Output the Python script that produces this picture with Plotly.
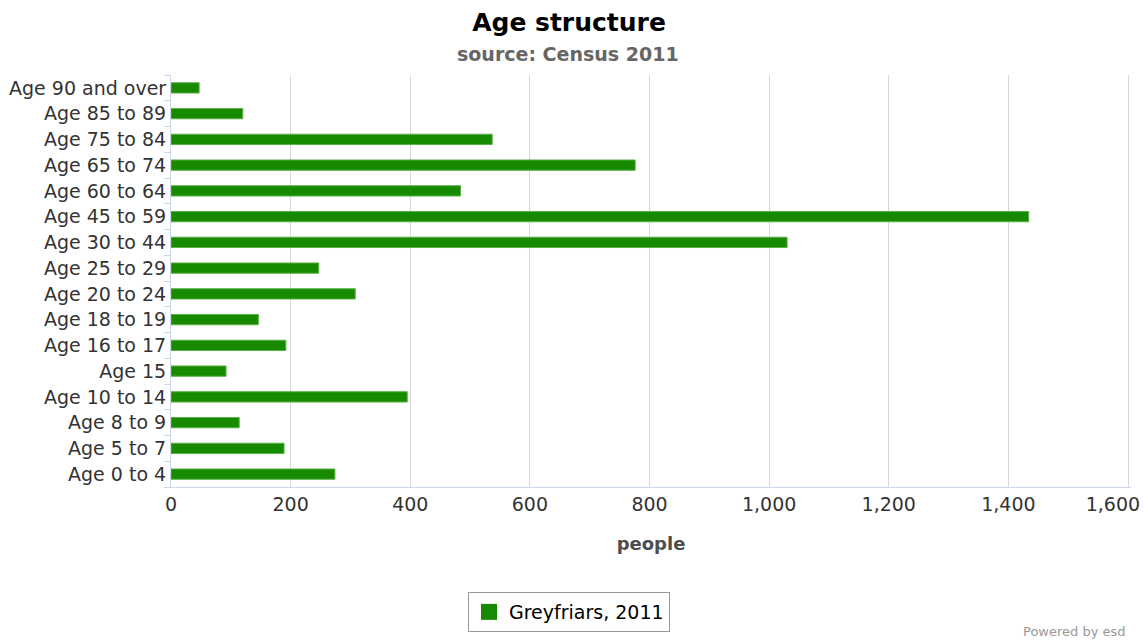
import plotly.graph_objects as go

categories = ["Age 0 to 4", "Age 5 to 7", "Age 8 to 9", "Age 10 to 14", "Age 15",
              "Age 16 to 17", "Age 18 to 19", "Age 20 to 24", "Age 25 to 29",
              "Age 30 to 44", "Age 45 to 59", "Age 60 to 64", "Age 65 to 74",
              "Age 75 to 84", "Age 85 to 89", "Age 90 and over"]
people = [274, 189, 114, 395, 92, 192, 146, 308, 247, 1030, 1434, 484, 776, 537, 120, 47]
x_ticks = [0, 200, 400, 600, 800, 1000, 1200, 1400, 1600]
x_tick_labels = ["0", "200", "400", "600", "800", "1,000", "1,200", "1,400", "1,600"]
series_name = "Greyfriars, 2011"

FONT = "DejaVu Sans, sans-serif"
GREEN = "#178a00"

# last label is pushed left to stay inside the chart (like the reference)
tick_text = list(x_tick_labels)
tick_text[-1] = tick_text[-1] + "\u00a0" * 5

fig = go.Figure()
fig.add_trace(go.Bar(
    y=categories, x=people, orientation="h", name=series_name,
    marker=dict(color=GREEN, line=dict(color="#5bb04a", width=1)),
    width=0.4, showlegend=False,
))
# legend entry (square swatch like the reference)
fig.add_trace(go.Scatter(
    x=[None], y=[None], mode="markers", name=series_name,
    marker=dict(symbol="square", size=16, color=GREEN, line=dict(width=0)),
    showlegend=True,
))

fig.update_layout(
    width=1144, height=640,
    paper_bgcolor="white", plot_bgcolor="white",
    margin=dict(l=171, r=13, t=75, b=153),
    font=dict(family=FONT, color="#333333", size=19),
    title=dict(text="<b>Age structure</b>", x=569/1144, xref="container", xanchor="center",
               y=1 - 22/640, yanchor="middle",
               font=dict(size=25, color="#000000", family=FONT)),
    showlegend=True,
    legend=dict(orientation="h", xref="container", yref="container",
                x=569/1144, xanchor="center", y=1 - 592/640, yanchor="top",
                bordercolor="#999999", borderwidth=1, font=dict(size=19, color="#000000"),
                itemsizing="trace", itemwidth=30),
    bargap=0.6,
)

fig.add_annotation(text="<b>source: Census 2011</b>", xref="paper", yref="paper",
                   x=(568 - 171)/960, y=1 + (75 - 54)/412, xanchor="center", yanchor="middle",
                   showarrow=False, font=dict(size=19, color="#666666", family=FONT))
fig.add_annotation(text="Powered by esd", xref="paper", yref="paper",
                   x=(1128 - 171)/960, y=-(631 - 487)/412, xanchor="right", yanchor="middle",
                   showarrow=False, font=dict(size=13, color="#999999", family=FONT))

fig.update_xaxes(
    range=[0, 1605], tickvals=x_ticks, ticktext=tick_text,
    showgrid=True, gridcolor="#d8d8d8", gridwidth=1, zeroline=False,
    showline=True, linecolor="#ccd6eb", linewidth=1,
    ticks="", tickfont=dict(size=19, color="#333333"), automargin=False,
    ticklabeloverflow="allow",
    title=dict(text="<b>people</b>", font=dict(size=18, color="#4d4d4d"), standoff=23),
)
fig.update_yaxes(
    type="category", categoryorder="array", categoryarray=categories,
    showgrid=False, zeroline=False, showline=True, linecolor="#ccd6eb", linewidth=1,
    ticks="outside", tickson="boundaries", ticklen=6, tickcolor="#ccd6eb",
    tickfont=dict(size=19, color="#333333"), automargin=False,
)

fig.write_html("out.html", config={"displayModeBar": False},
               post_script="document.body.style.margin='0';document.body.style.padding='0';")
